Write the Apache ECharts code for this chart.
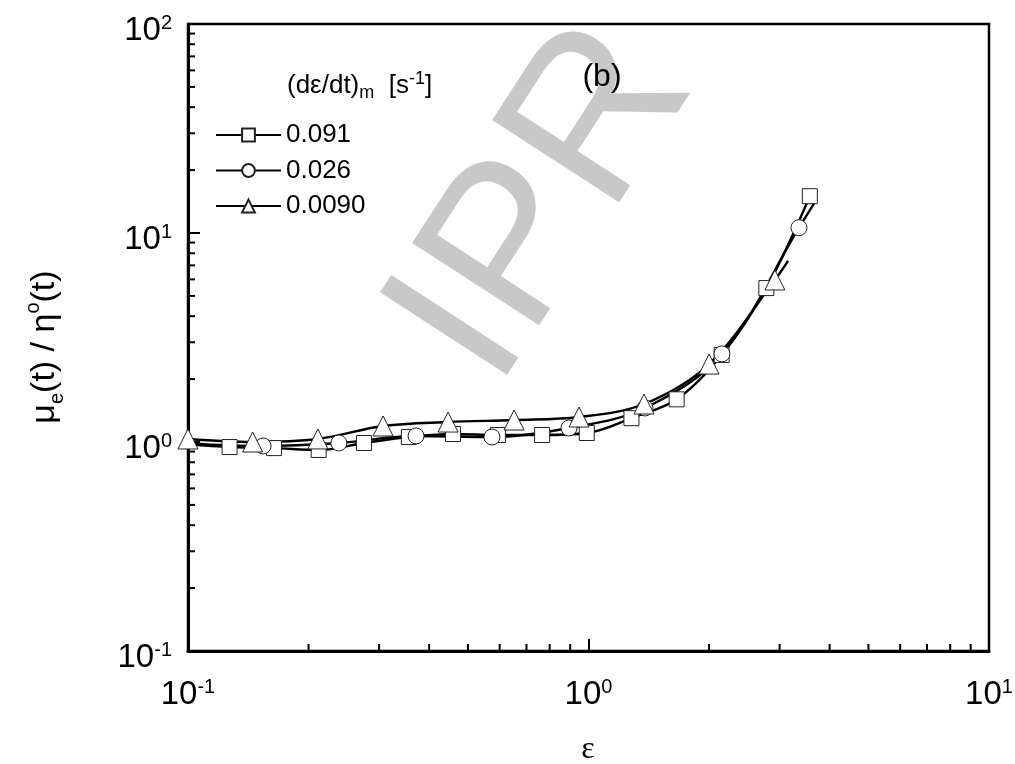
<!DOCTYPE html>
<html>
<head>
<meta charset="utf-8">
<script src="https://cdn.jsdelivr.net/npm/echarts@6/dist/echarts.min.js"></script>
<style>html,body{margin:0;padding:0;background:#fff}#c{width:1015px;height:764px}</style>
</head>
<body>
<div id="c"></div>
<script>
// ---- data ----
const seriesNames = ['0.091', '0.026', '0.0090'];
const symbols = ['rect', 'circle', 'triangle'];

const markers091 = [[0.127,0.946],[0.164,0.935],[0.212,0.916],[0.275,0.989],[0.356,1.056],[0.459,1.092],[0.594,1.08],[0.766,1.08],[0.99,1.104],[1.28,1.30],[1.66,1.60],[2.15,2.61],[2.78,5.45],[3.57,15.0]];
const lineStart091 = [[0.1,0.975]];
const lineEnd091 = [];

const markers026 = [[0.154,0.957],[0.238,0.989],[0.371,1.069],[0.574,1.056],[0.894,1.167],[1.384,1.455],[2.154,2.64],[3.354,10.6]];
const lineStart026 = [[0.1,0.985]];
const lineEnd026 = [[3.72,14.6]];

const markers0090 = [[0.1,1.034],[0.145,1.0],[0.211,1.034],[0.307,1.193],[0.446,1.246],[0.652,1.274],[0.947,1.317],[1.376,1.52],[2.0,2.36],[2.92,5.96]];
const lineStart0090 = [];
const lineEnd0090 = [[3.15,7.35]];

const xDecades = [-1, 0];      // minor ticks between 10^-1 .. 10^1
const yDecades = [-1, 0, 1];   // minor ticks between 10^-1 .. 10^2

// ---- build ----
const markerSets = [markers091, markers026, markers0090];
const lineSets = [
  lineStart091.concat(markers091, lineEnd091),
  lineStart026.concat(markers026, lineEnd026),
  lineStart0090.concat(markers0090, lineEnd0090)
];
const markerSizes = [15, 16, 20];

const minorTicks = [];
xDecades.forEach(d => { for (let k = 2; k <= 9; k++) minorTicks.push([k * Math.pow(10, d), 0.1, 0]); });
yDecades.forEach(d => { for (let k = 2; k <= 9; k++) minorTicks.push([0.1, k * Math.pow(10, d), 1]); });

const FONT = 'Liberation Sans, Arial, sans-serif';
const labelRich = {
  base: { fontSize: 33, fontFamily: FONT, color: '#000', lineHeight: 33, verticalAlign: 'bottom', padding: [14, 0, 0, 0] },
  sup: { fontSize: 20, fontFamily: FONT, color: '#000', lineHeight: 34, verticalAlign: 'top' }
};
const powFmt = v => '{base|10}{sup|' + Math.round(Math.log10(v)) + '}';

const series = [];
seriesNames.forEach((n, i) => {
  series.push({
    name: n, type: 'line', data: lineSets[i], smooth: 0.35,
    symbol: symbols[i], showSymbol: false, symbolSize: markerSizes[i],
    lineStyle: { color: '#000', width: 2.4 },
    itemStyle: { color: '#fff', borderColor: '#222', borderWidth: 1 },
    z: 3, silent: true
  });
});
seriesNames.forEach((n, i) => {
  series.push({
    name: n + ' markers', type: 'scatter', data: markerSets[i],
    symbol: symbols[i], symbolSize: markerSizes[i],
    itemStyle: { color: '#fff', borderColor: '#222', borderWidth: 1, opacity: 1 },
    z: 4, silent: true
  });
});
series.push({
  type: 'custom', data: minorTicks, silent: true, z: 5,
  renderItem: function (params, api) {
    const p = api.coord([api.value(0), api.value(1)]);
    if (api.value(2) === 0) {
      return { type: 'line', shape: { x1: p[0], y1: p[1], x2: p[0], y2: p[1] - 7 }, style: { stroke: '#000', lineWidth: 2 } };
    }
    return { type: 'line', shape: { x1: p[0], y1: p[1], x2: p[0] + 7, y2: p[1] }, style: { stroke: '#000', lineWidth: 2 } };
  }
});

const chart = echarts.init(document.getElementById('c'), null, { renderer: 'canvas' });
chart.setOption({
  backgroundColor: '#fff',
  animation: false,
  grid: { left: 188, right: 26, top: 24, bottom: 113, outerBoundsMode: 'none', containLabel: false,
          show: true, borderColor: '#000', borderWidth: 2.5, backgroundColor: 'transparent' },
  xAxis: {
    type: 'log', logBase: 10, min: 0.1, max: 10,
    axisLine: { lineStyle: { color: '#000', width: 3 } },
    axisTick: { inside: true, length: 12, lineStyle: { color: '#000', width: 2 } },
    minorTick: { show: false },
    splitLine: { show: false },
    axisLabel: { margin: 26, fontSize: 33, fontFamily: FONT, color: '#000', formatter: powFmt, rich: labelRich }
  },
  yAxis: {
    type: 'log', logBase: 10, min: 0.1, max: 100,
    axisLine: { lineStyle: { color: '#000', width: 3 } },
    axisTick: { inside: true, length: 12, lineStyle: { color: '#000', width: 2 } },
    minorTick: { show: false },
    splitLine: { show: false },
    axisLabel: { margin: 16, padding: [12, 0, 0, 0], fontSize: 33, fontFamily: FONT, color: '#000', formatter: powFmt, rich: labelRich }
  },
  legend: {
    data: seriesNames, orient: 'vertical', left: 215, top: 122, padding: 0,
    itemWidth: 65, itemHeight: 16, itemGap: 9.5, itemTextGap: 8,
    textStyle: { fontSize: 26, fontFamily: FONT, color: '#000' }
  },
  graphic: [
    { type: 'text', z: -10, x: 545, y: 205, rotation: Math.PI * 57 / 180,
      style: { text: 'IPR', fontSize: 220, fontFamily: FONT, fill: '#c8c8c8', align: 'center', verticalAlign: 'middle' } },
    { type: 'text', x: 602, y: 77,
      style: { text: '(b)', fontSize: 32, fontFamily: FONT, fill: '#000', align: 'center', verticalAlign: 'middle' } },
    { type: 'text', x: 287, y: 86,
      style: {
        text: '{n|(dε/dt)}{sub|m}{n|  [s}{sup|-1}{n|]}', align: 'left', verticalAlign: 'middle',
        rich: {
          n: { fontSize: 26, fontFamily: FONT, fill: '#000', lineHeight: 32, verticalAlign: 'middle' },
          sub: { fontSize: 18, fontFamily: FONT, fill: '#000', lineHeight: 18, verticalAlign: 'bottom' },
          sup: { fontSize: 18, fontFamily: FONT, fill: '#000', lineHeight: 18, verticalAlign: 'top' }
        }
      } },
    { type: 'text', x: 45, y: 347, rotation: Math.PI / 2,
      style: {
        text: '{n|μ}{sub|e}{n|(t) / η}{sup|o}{n|(t)}', align: 'center', verticalAlign: 'middle',
        rich: {
          n: { fontSize: 34, fontFamily: FONT, fill: '#000', lineHeight: 44, verticalAlign: 'middle' },
          sub: { fontSize: 20, fontFamily: FONT, fill: '#000', lineHeight: 20, verticalAlign: 'bottom' },
          sup: { fontSize: 20, fontFamily: FONT, fill: '#000', lineHeight: 20, verticalAlign: 'top' }
        }
      } },
    { type: 'text', x: 588, y: 750,
      style: { text: 'ε', fontSize: 32, fontFamily: 'Liberation Serif, serif', fill: '#000', align: 'center', verticalAlign: 'middle' } }
  ],
  series: series
});
</script>
</body>
</html>
